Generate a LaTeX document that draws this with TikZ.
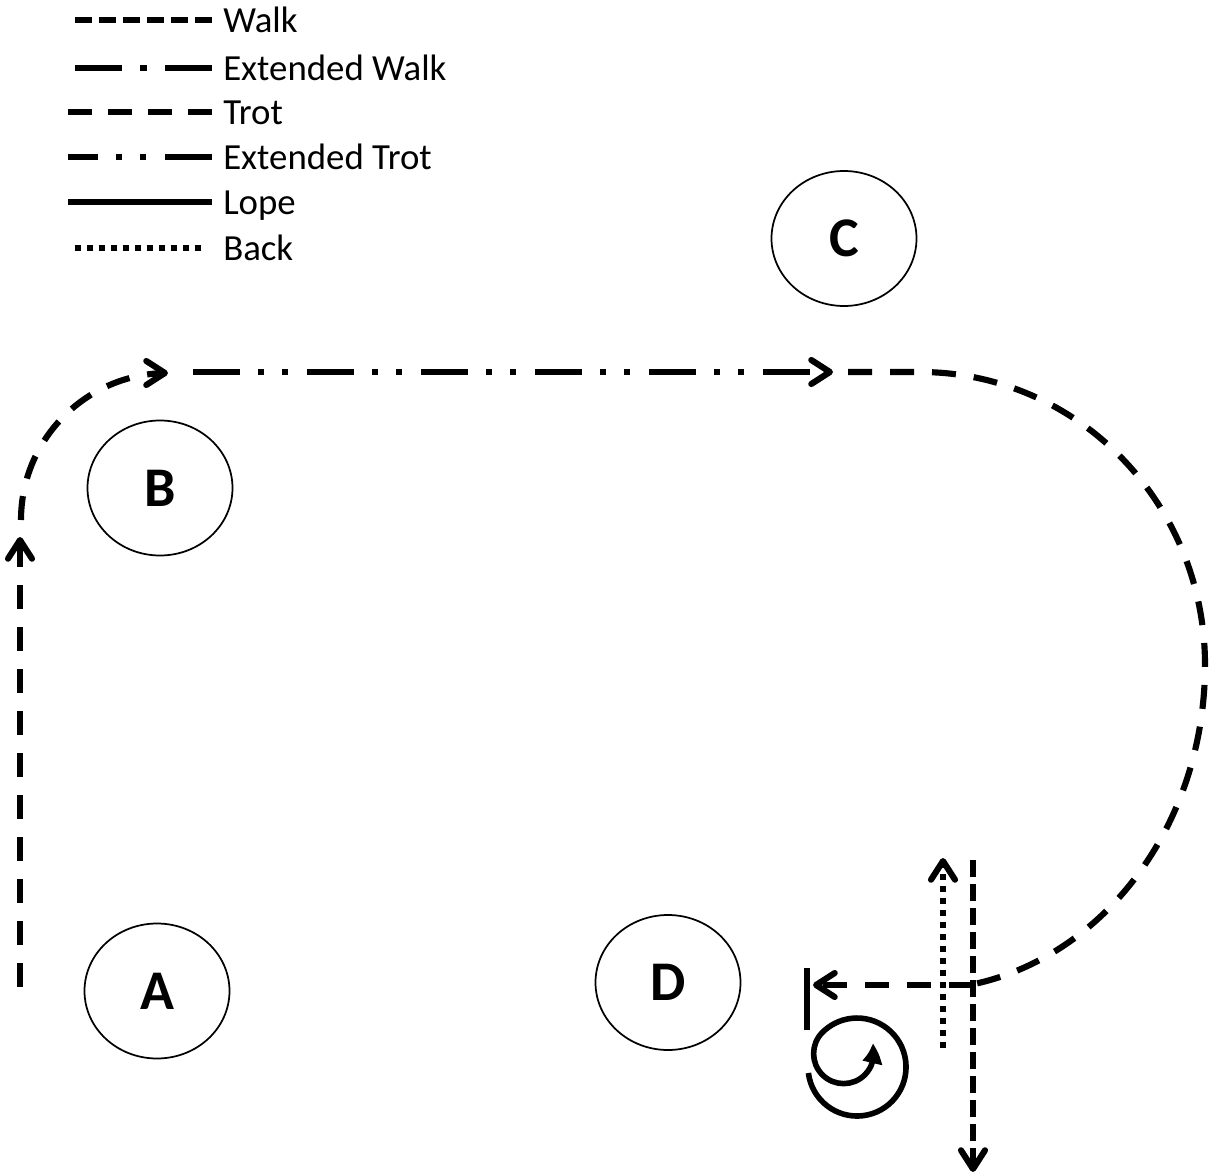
\documentclass[tikz,border=0pt]{standalone}
\usepackage{fontspec}
\setmainfont{Carlito}
\usetikzlibrary{arrows.meta,shapes.geometric,bending}
\begin{document}
\begin{tikzpicture}[x=0.75pt,y=0.75pt,
  route/.style={line width=4.6pt},
  walk/.style={route, dash pattern=on 12.75pt off 5.25pt},
  trot/.style={route, dash pattern=on 18pt off 13.5pt},
  legtrot/.style={route, dash pattern=on 18pt off 12pt},
  extwalk/.style={route, dash pattern=on 35.25pt off 13.5pt on 5.25pt off 13.5pt},
  exttrot/.style={route, dash pattern=on 35.25pt off 13.5pt on 4.5pt off 13.5pt on 4.5pt off 14.25pt},
  lope/.style={route},
  back/.style={route, dash pattern=on 4.5pt off 4.5pt},
  barb/.style={-{Straight Barb[length=14pt,width=18pt,round]}},
  spot/.style={draw, ellipse, line width=1.3pt, minimum width=108.75pt, minimum height=101.25pt, inner sep=0pt, font=\bfseries\fontsize{42}{42}\selectfont},
  legtext/.style={anchor=base west, inner sep=0pt, font=\fontsize{27.6}{27.6}\selectfont}
]
\useasboundingbox (0,0) rectangle (1209,-1176);

% legend
\coordinate (l1a) at (75,-20);  \coordinate (l1b) at (212,-20);
\coordinate (l2a) at (75,-68);  \coordinate (l2b) at (212,-68);
\coordinate (l3a) at (68,-112); \coordinate (l3b) at (212,-112);
\coordinate (l4a) at (68,-157); \coordinate (l4b) at (212,-157);
\coordinate (l5a) at (68,-202); \coordinate (l5b) at (212,-202);
\coordinate (l6a) at (75,-248); \coordinate (l6b) at (207,-248);
\draw[walk] (l1a) -- (l1b);
\draw[extwalk] (l2a) -- (l2b);
\draw[legtrot] (l3a) -- (l3b);
\draw[exttrot, dash phase=12.75pt] (l4a) -- (l4b);
\draw[lope] (l5a) -- (l5b);
\draw[back] (l6a) -- (l6b);
\node[legtext] (t1) at (223,-32.5) {Walk};
\node[legtext] (t2) at (223,-80.5) {Extended Walk};
\node[legtext] (t3) at (223,-124.5) {Trot};
\node[legtext] (t4) at (223,-169.5) {Extended Trot};
\node[legtext] (t5) at (223,-214.5) {Lope};
\node[legtext] (t6) at (223,-260.5) {Back};

% markers
\node[spot] (C) at (844,-238.5) {C};
\node[spot] (B) at (160,-488) {B};
\node[spot] (A) at (157,-991) {A};
\node[spot] (D) at (668,-982.5) {D};

% pattern path
\coordinate (p0) at (20,-987);
\coordinate (p1) at (20,-537);
\coordinate (p2) at (21,-520);
\coordinate (p3) at (193,-372);
\coordinate (p4) at (833,-372);
\coordinate (p5) at (848,-372);
\coordinate (p6) at (920,-372);
\coordinate (p7) at (973,-985);
\coordinate (p8) at (813,-985);
\coordinate (bar1) at (807,-968);
\coordinate (bar2) at (807,-1030);
\coordinate (bk1) at (943,-1048);
\coordinate (bk2) at (943,-858);
\coordinate (wk1) at (973,-860);
\coordinate (wk2) at (973,-1172);
\coordinate (s0) at (808.4,-1073);

\draw[trot, barb] (p0) -- (p1);
\draw[trot, barb] (p2) arc[start angle=180, end angle=90, radius=110.25pt];
\draw[exttrot, barb] (p3) -- (p4);
\draw[trot] (p5) -- (p6)
  arc[start angle=90, end angle=0, x radius=213.75pt, y radius=219.75pt]
  arc[start angle=0, end angle=-79.3, x radius=213.75pt, y radius=243.75pt];
\draw[trot, barb] (p7) -- (p8);
\draw[lope] (bar1) -- (bar2);
\draw[back, barb] (bk1) -- (bk2);
\draw[walk, barb] (wk1) -- (wk2);
\draw[lope, line width=4.2pt, -{Triangle[length=15pt,width=14pt,bend]}] (s0)
  arc[start angle=187, end angle=495, radius=36.75pt]
  arc[start angle=135, end angle=380, radius=22.5pt];
\end{tikzpicture}
\end{document}
